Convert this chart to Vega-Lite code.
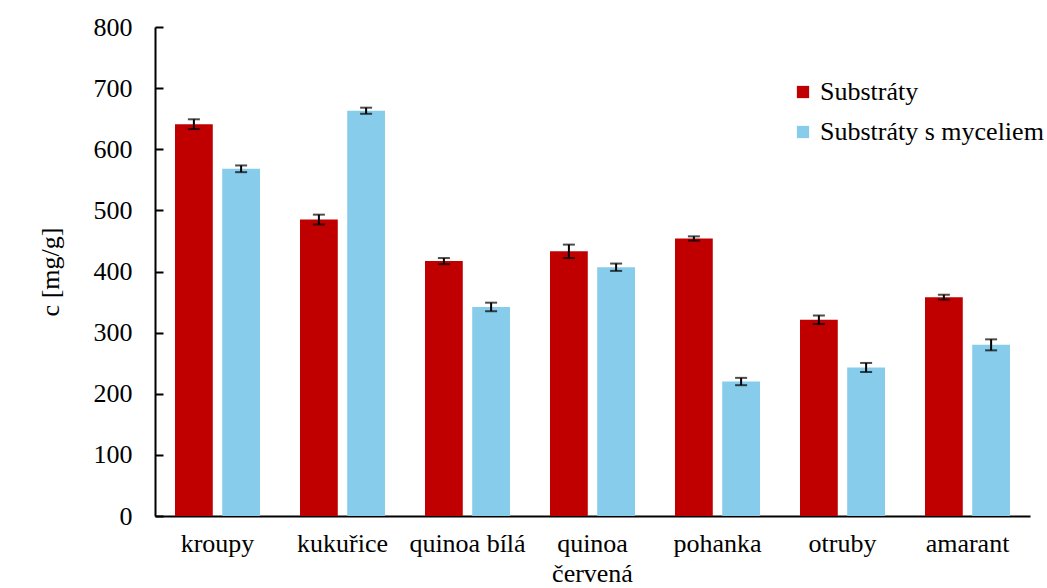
{
  "$schema": "https://vega.github.io/schema/vega-lite/v6.json",
  "width": 875,
  "height": 489,
  "autosize": "none",
  "padding": {"left": 155, "top": 27, "right": 17, "bottom": 72},
  "background": "white",
  "config": {
    "font": "Liberation Serif",
    "axis": {"labelFont": "Liberation Serif", "titleFont": "Liberation Serif"},
    "legend": {"labelFont": "Liberation Serif"},
    "view": {"stroke": null}
  },
  "data": {
    "values": [
      {"substrat": "kroupy", "typ": "Substráty", "value": 641, "lo": 633, "hi": 649},
      {"substrat": "kroupy", "typ": "Substráty s myceliem", "value": 568, "lo": 562.5, "hi": 573.5},
      {"substrat": "kukuřice", "typ": "Substráty", "value": 485, "lo": 477, "hi": 493},
      {"substrat": "kukuřice", "typ": "Substráty s myceliem", "value": 663, "lo": 658, "hi": 668},
      {"substrat": "quinoa bílá", "typ": "Substráty", "value": 417, "lo": 412, "hi": 422},
      {"substrat": "quinoa bílá", "typ": "Substráty s myceliem", "value": 342, "lo": 335, "hi": 349},
      {"substrat": "quinoa červená", "typ": "Substráty", "value": 433, "lo": 422, "hi": 444},
      {"substrat": "quinoa červená", "typ": "Substráty s myceliem", "value": 407, "lo": 401, "hi": 413},
      {"substrat": "pohanka", "typ": "Substráty", "value": 454, "lo": 450.5, "hi": 457.5},
      {"substrat": "pohanka", "typ": "Substráty s myceliem", "value": 220, "lo": 214, "hi": 226},
      {"substrat": "otruby", "typ": "Substráty", "value": 321, "lo": 314, "hi": 328},
      {"substrat": "otruby", "typ": "Substráty s myceliem", "value": 243, "lo": 235.6, "hi": 250.4},
      {"substrat": "amarant", "typ": "Substráty", "value": 358, "lo": 354, "hi": 362},
      {"substrat": "amarant", "typ": "Substráty s myceliem", "value": 280, "lo": 271, "hi": 289}
    ]
  },
  "encoding": {
    "x": {
      "field": "substrat",
      "type": "nominal",
      "sort": null,
      "scale": {"paddingInner": 0.32, "paddingOuter": 0.16},
      "axis": {
        "title": null,
        "labelAngle": 0,
        "labelFont": "Liberation Serif",
        "labelFontSize": 26,
        "labelColor": "black",
        "labelPadding": 14,
        "labelLimit": 0,
        "ticks": false,
        "domainColor": "black",
        "domainWidth": 2,
        "labelExpr": "datum.label == 'quinoa červená' ? ['quinoa', 'červená'] : datum.label",
        "labelLineHeight": 30
      }
    },
    "xOffset": {
      "field": "typ",
      "type": "nominal",
      "sort": ["Substráty", "Substráty s myceliem"],
      "scale": {"paddingInner": 0.2, "paddingOuter": 0}
    }
  },
  "layer": [
    {
      "mark": {"type": "bar"},
      "encoding": {
        "y": {
          "field": "value",
          "type": "quantitative",
          "scale": {"domain": [0, 800], "nice": false},
          "axis": {
            "title": "c [mg/g]",
            "titleFont": "Liberation Serif",
            "titleFontSize": 26,
            "titleFontWeight": "normal",
            "titleColor": "black",
            "titlePadding": 30,
            "values": [0, 100, 200, 300, 400, 500, 600, 700, 800],
            "labelFont": "Liberation Serif",
            "labelFontSize": 26,
            "labelColor": "black",
            "grid": false,
            "tickSize": -8,
            "tickWidth": 2,
            "tickColor": "black",
            "labelPadding": 31,
            "domainColor": "black",
            "domainWidth": 2
          }
        },
        "color": {
          "field": "typ",
          "type": "nominal",
          "sort": ["Substráty", "Substráty s myceliem"],
          "scale": {"domain": ["Substráty", "Substráty s myceliem"], "range": ["#C00000", "#87CCEA"]},
          "legend": {
            "title": null,
            "orient": "none",
            "legendX": 635,
            "legendY": 52,
            "symbolType": "square",
            "symbolSize": 150,
            "symbolStrokeWidth": 0,
            "labelFont": "Liberation Serif",
            "labelFontSize": 26,
            "labelLimit": 0,
            "labelColor": "black",
            "rowPadding": 14,
            "labelOffset": 4
          }
        }
      }
    },
    {
      "mark": {"type": "rule", "color": "black", "strokeWidth": 2},
      "encoding": {
        "y": {"field": "lo", "type": "quantitative"},
        "y2": {"field": "hi"}
      }
    },
    {
      "mark": {"type": "tick", "color": "black", "thickness": 2, "size": 12},
      "encoding": {
        "y": {"field": "lo", "type": "quantitative"}
      }
    },
    {
      "mark": {"type": "tick", "color": "black", "thickness": 2, "size": 12},
      "encoding": {
        "y": {"field": "hi", "type": "quantitative"}
      }
    }
  ]
}
